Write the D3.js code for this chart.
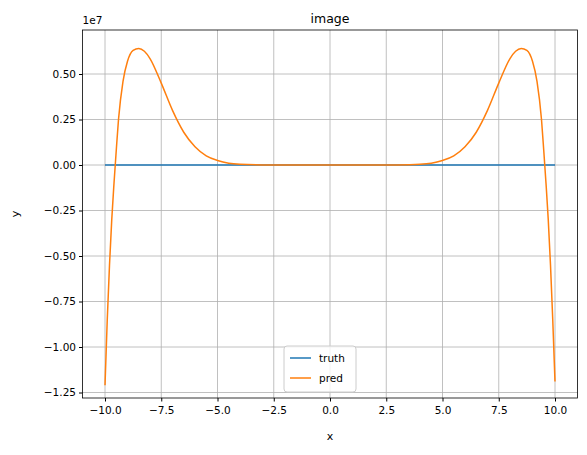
<!DOCTYPE html>
<html><head><meta charset="utf-8">
<script src="https://cdn.jsdelivr.net/npm/d3@7"></script>
<style>body{margin:0;background:#fff}text{font-family:"DejaVu Sans",sans-serif}</style>
</head><body>
<svg id="c" width="587" height="455"></svg>
<script>
const xTicks=[-10,-7.5,-5,-2.5,0,2.5,5,7.5,10];
const yTicks=[-1.25,-1.0,-0.75,-0.5,-0.25,0,0.25,0.5];
const truthX=[-10,10];
const truthY=[0,0];
const predX=[-10,-9.9,-9.8,-9.7,-9.6,-9.5,-9.4,-9.2,-9,-8.75,-8.5,-8.25,-8,-7.5,-7,-6.5,-6,-5.5,-5,-4.5,-4,-3,-2,0,2,3,4,4.5,5,5.5,6,6.5,7,7.5,8,8.25,8.5,8.75,9,9.2,9.4,9.5,9.6,9.7,9.8,9.9,10];
const predY=[-1.21,-0.85,-0.55,-0.3,-0.1,0.08,0.25,0.46,0.57,0.63,0.64,0.625,0.585,0.45,0.3,0.18,0.1,0.05,0.025,0.01,0.004,0.0005,0,0,0,0.0005,0.004,0.01,0.025,0.05,0.1,0.18,0.3,0.45,0.585,0.625,0.64,0.63,0.57,0.46,0.25,0.08,-0.1,-0.3,-0.55,-0.85,-1.19];
const svg=d3.select("#c");
const L=82.5,R=577.5,T=30,B=398;
const x=d3.scaleLinear().domain([-11,11]).range([L,R]);
const y=d3.scaleLinear().domain([-(B-165)/182,(165-T)/182]).range([B,T]);
const g=svg.append("g");
g.selectAll(".gx").data(xTicks).join("line").attr("x1",d=>x(d)).attr("x2",d=>x(d)).attr("y1",T).attr("y2",B).attr("stroke","#b0b0b0").attr("stroke-width",0.8);
g.selectAll(".gy").data(yTicks).join("line").attr("y1",d=>y(d)).attr("y2",d=>y(d)).attr("x1",L).attr("x2",R).attr("stroke","#b0b0b0").attr("stroke-width",0.8);
const line=d3.line().x(d=>x(d[0])).y(d=>y(d[1])).curve(d3.curveMonotoneX);
g.append("path").datum(truthX.map((v,i)=>[v,truthY[i]])).attr("d",line).attr("fill","none").attr("stroke","#1f77b4").attr("stroke-width",1.5);
g.append("path").datum(predX.map((v,i)=>[v,predY[i]])).attr("d",line).attr("fill","none").attr("stroke","#ff7f0e").attr("stroke-width",1.5);
svg.append("rect").attr("x",L).attr("y",T).attr("width",R-L).attr("height",B-T).attr("fill","none").attr("stroke","#000").attr("stroke-width",0.8);
svg.append("g").attr("transform",`translate(0,${B})`).call(d3.axisBottom(x).tickValues(xTicks).tickFormat(d3.format(".1f")).tickSizeOuter(0).tickSize(3.5)).call(a=>{a.select(".domain").remove();a.selectAll("text").attr("font-size",10.5).attr("fill","#000").attr("dy","0.9em");});
svg.append("g").attr("transform",`translate(${L},0)`).call(d3.axisLeft(y).tickValues(yTicks).tickFormat(d3.format(".2f")).tickSizeOuter(0).tickSize(3.5)).call(a=>{a.select(".domain").remove();a.selectAll("text").attr("font-size",10.5).attr("fill","#000");});
svg.append("text").attr("x",L).attr("y",T-6).attr("font-size",10.5).text("1e7");
svg.append("text").attr("x",(L+R)/2).attr("y",T-7).attr("text-anchor","middle").attr("font-size",12.5).text("image");
svg.append("text").attr("x",(L+R)/2).attr("y",440).attr("text-anchor","middle").attr("font-size",11).text("x");
svg.append("text").attr("transform",`translate(19,${(T+B)/2}) rotate(-90)`).attr("text-anchor","middle").attr("font-size",11).text("y");
const lg=svg.append("g").attr("transform","translate(284,346)");
lg.append("rect").attr("width",72).attr("height",46).attr("rx",3).attr("fill","#fff").attr("fill-opacity",0.8).attr("stroke","#ccc");
[["truth","#1f77b4"],["pred","#ff7f0e"]].forEach((d,i)=>{
lg.append("line").attr("x1",6).attr("x2",27).attr("y1",12+i*20).attr("y2",12+i*20).attr("stroke",d[1]).attr("stroke-width",1.5);
lg.append("text").attr("x",35).attr("y",16+i*20).attr("font-size",10.5).text(d[0]);});
</script></body></html>
